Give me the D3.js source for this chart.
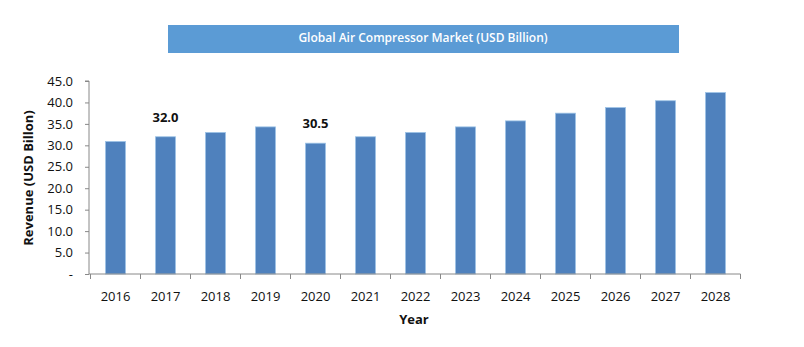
<!DOCTYPE html>
<html>
<head>
<meta charset="utf-8">
<script src="https://cdn.jsdelivr.net/npm/d3@7"></script>
<style>
  html, body { margin: 0; padding: 0; background: #fff; }
  svg { display: block; font-family: "Open Sans", "Liberation Sans", sans-serif; }
</style>
</head>
<body>
<svg id="chart" width="804" height="347"></svg>
<script>
// Market revenue by year (USD billion)
const years = ["2016","2017","2018","2019","2020","2021","2022","2023","2024","2025","2026","2027","2028"];
const revenue = [30.9, 32.0, 33.0, 34.3, 30.5, 32.0, 33.0, 34.3, 35.7, 37.5, 38.8, 40.4, 42.3];
const yTicks = [0, 5, 10, 15, 20, 25, 30, 35, 40, 45];
const labelledYears = ["2017", "2020"];

const title = "Global Air Compressor Market (USD Billion)";
const yTitle = "Revenue (USD Billon)";
const xTitle = "Year";

const svg = d3.select("#chart");
const plotLeft = 89, plotRight = 742, plotTop = 81, plotBottom = 274;

const x = d3.scaleBand().domain(years).range([plotLeft, plotRight]).paddingInner(0.6).paddingOuter(0.33);
const y = d3.scaleLinear().domain([0, 45]).range([plotBottom, plotTop]);

// Title banner
svg.append("rect")
  .attr("x", 168).attr("y", 25).attr("width", 511).attr("height", 28)
  .attr("fill", "#5B9BD5");
svg.append("text")
  .attr("x", 423).attr("y", 38).attr("dy", "0.35em")
  .attr("text-anchor", "middle")
  .attr("fill", "#fff").attr("font-size", 12).attr("font-weight", 600)
  .text(title);

// Bars
svg.append("g").selectAll("rect")
  .data(years)
  .join("rect")
  .attr("x", d => x(d))
  .attr("width", x.bandwidth())
  .attr("y", (d, i) => y(revenue[i]))
  .attr("height", (d, i) => plotBottom - y(revenue[i]))
  .attr("fill", "#4F81BD")
  .attr("stroke", "#9DC3E6")
  .attr("stroke-width", 0.8);

// Value labels
svg.append("g").selectAll("text")
  .data(years.filter(d => labelledYears.includes(d)))
  .join("text")
  .attr("x", d => x(d) + x.bandwidth() / 2)
  .attr("y", d => y(revenue[years.indexOf(d)]) - 15)
  .attr("text-anchor", "middle")
  .attr("font-size", 13).attr("font-weight", "bold").attr("fill", "#111")
  .text(d => revenue[years.indexOf(d)].toFixed(1));

// Y axis
const yAxis = svg.append("g")
  .attr("transform", `translate(${plotLeft},0)`)
  .call(d3.axisLeft(y).tickValues(yTicks).tickSize(4).tickPadding(12)
    .tickFormat(d => d === 0 ? "-" : d.toFixed(1)))
  .call(g => g.select(".domain").attr("stroke", "#888").attr("d", `M-4,${plotTop}H0V${plotBottom}`));
yAxis.selectAll(".tick line").attr("stroke", "#888");
yAxis.selectAll("text").attr("font-size", 13).attr("fill", "#111")
  .attr("font-family", "'Open Sans', sans-serif");

// X axis with ticks on category boundaries
const step = x.step();
const firstEdge = x(years[0]) + x.bandwidth() / 2 - step / 2;
const xAxis = svg.append("g").attr("transform", `translate(0,${plotBottom})`);
xAxis.append("line").attr("x1", plotLeft).attr("x2", firstEdge + years.length * step).attr("stroke", "#888");
xAxis.selectAll("line.tk")
  .data(d3.range(years.length + 1))
  .join("line").attr("class", "tk")
  .attr("x1", i => firstEdge + i * step).attr("x2", i => firstEdge + i * step)
  .attr("y1", 0).attr("y2", 5).attr("stroke", "#888");
xAxis.selectAll("text")
  .data(years)
  .join("text")
  .attr("x", d => x(d) + x.bandwidth() / 2)
  .attr("y", 22).attr("dy", "0.35em")
  .attr("text-anchor", "middle")
  .attr("font-size", 13).attr("fill", "#111")
  .text(d => d);

// Axis titles
svg.append("text")
  .attr("x", 414).attr("y", 319).attr("dy", "0.35em")
  .attr("text-anchor", "middle")
  .attr("font-size", 13).attr("font-weight", "bold").attr("fill", "#111")
  .text(xTitle);
svg.append("text")
  .attr("transform", "translate(28,178) rotate(-90)")
  .attr("dy", "0.35em")
  .attr("text-anchor", "middle")
  .attr("font-size", 13).attr("font-weight", "bold").attr("fill", "#111")
  .text(yTitle);
</script>
</body>
</html>
